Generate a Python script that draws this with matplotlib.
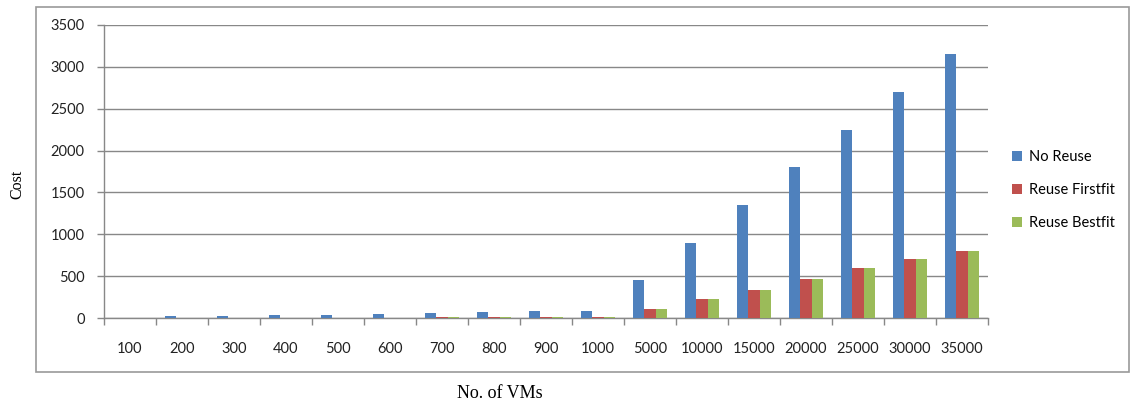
import matplotlib
matplotlib.use("Agg")
import matplotlib.pyplot as plt
import numpy as np
from matplotlib.patches import Rectangle, Patch

# Number of VMs (categories) and cost per strategy
vms = ["100", "200", "300", "400", "500", "600", "700", "800", "900", "1000",
       "5000", "10000", "15000", "20000", "25000", "30000", "35000"]
no_reuse = [5, 18, 20, 36, 38, 52, 55, 70, 85, 88,
            450, 900, 1350, 1800, 2250, 2700, 3150]
reuse_firstfit = [0, 0, 0, 0, 0, 0, 8, 8, 8, 10,
                  112, 225, 340, 460, 600, 700, 800]
reuse_bestfit = [0, 0, 0, 0, 0, 0, 8, 8, 8, 10,
                 112, 225, 340, 460, 600, 700, 800]
series_names = ["No Reuse", "Reuse Firstfit", "Reuse Bestfit"]
y_ticks = [0, 500, 1000, 1500, 2000, 2500, 3000, 3500]

colors = ["#4F81BD", "#C0504D", "#9BBB59"]
grid_gray = "#888888"
W, H = 1131, 405

fig = plt.figure(figsize=(W / 100, H / 100), dpi=100)
ax = fig.add_axes([104 / W, 1 - 318 / H, (988 - 104) / W, (318 - 25) / H])

x = np.arange(len(vms))
bw = 0.22
for i, (vals, c) in enumerate(zip([no_reuse, reuse_firstfit, reuse_bestfit], colors)):
    ax.bar(x + (i - 1) * bw, vals, width=bw, color=c, label=series_names[i], zorder=3)

ax.set_xlim(-0.5, len(vms) - 0.5)
ax.set_ylim(0, 3500)
ax.set_yticks(y_ticks)
ax.set_yticklabels([str(v) for v in y_ticks], fontfamily="Lato", fontsize=10.5, color="#222222")
ax.yaxis.grid(True, color=grid_gray, linewidth=1, zorder=0)
ax.tick_params(axis="y", direction="out", length=5, width=1, color=grid_gray, pad=9)

ax.set_xticks(x)
ax.set_xticklabels(vms, fontfamily="Lato", fontsize=10.5, color="#222222")
ax.set_xticks(np.arange(-0.5, len(vms)), minor=True)
ax.tick_params(axis="x", which="major", length=0, pad=17)
ax.tick_params(axis="x", which="minor", direction="out", length=5, width=1, color=grid_gray)

for s in ["top", "right"]:
    ax.spines[s].set_visible(False)
for s in ["left", "bottom"]:
    ax.spines[s].set_color(grid_gray)
    ax.spines[s].set_linewidth(1)

# Legend on the right
handles = [Patch(facecolor=c, edgecolor="none") for c in colors]
fig.legend(handles, series_names, loc="center left",
           bbox_to_anchor=(999 / W, 1 - 190 / H), frameon=False,
           prop={"family": "Lato", "size": 10.5}, handlelength=0.65, handleheight=0.65,
           handletextpad=0.5, labelspacing=1.3)

# Outer chart frame
fig.patches.append(Rectangle((36 / W, 1 - 372 / H), (1129 - 36) / W, (372 - 7) / H,
                             transform=fig.transFigure, fill=False,
                             edgecolor="#999999", linewidth=1.2))

fig.text(17 / W, 1 - 184 / H, "Cost", rotation=90, ha="center", va="center",
         fontfamily="Liberation Serif", fontsize=11.5)
fig.text(500 / W, 1 - 393 / H, "No. of VMs", ha="center", va="center",
         fontfamily="Liberation Serif", fontsize=13)

fig.savefig("out.png", dpi=100)
